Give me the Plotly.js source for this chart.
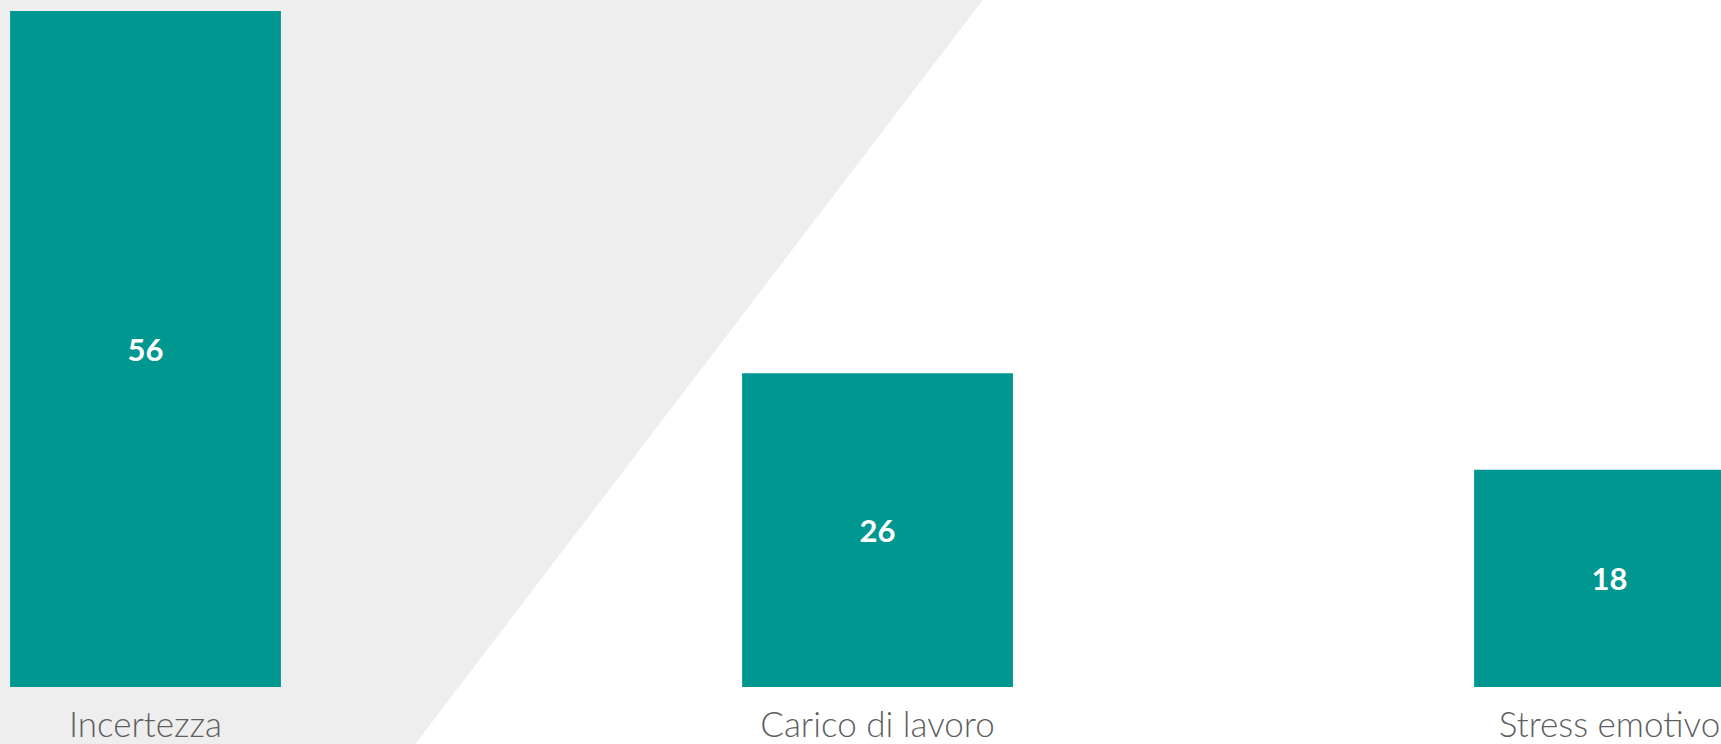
<!DOCTYPE html>
<html>
<head>
<meta charset="utf-8">
<script src="https://cdn.plot.ly/plotly-3.0.1.min.js"></script>
<style>
html,body{margin:0;padding:0;background:#fff;overflow:hidden;}
#chart{width:1721px;height:744px;}
</style>
</head>
<body>
<div id="chart"></div>
<script>
const categories = ["Incertezza", "Carico di lavoro", "Stress emotivo"];
const values = [56, 26, 18];
const barColor = "#009790";

const trace = {
  type: "bar",
  x: categories,
  y: values,
  text: values.map(String),
  textposition: "inside",
  insidetextanchor: "middle",
  textfont: {family: "Lato, 'Open Sans', sans-serif", size: 31, color: "#ffffff", weight: 700},
  marker: {color: barColor, line: {width: 0}},
  width: 0.37,
  hoverinfo: "skip"
};

const layout = {
  width: 1721,
  height: 744,
  margin: {l: 0, r: 0, t: 0, b: 57},
  paper_bgcolor: "#ffffff",
  plot_bgcolor: "rgba(0,0,0,0)",
  showlegend: false,
  xaxis: {
    type: "category",
    range: [-0.1988, 2.1523],
    showgrid: false,
    zeroline: false,
    showline: false,
    ticks: "outside",
    ticklen: 7,
    tickcolor: "rgba(0,0,0,0)",
    tickfont: {family: "Lato, 'Open Sans', sans-serif", size: 35, color: "#5f5f5f", weight: 300},
    fixedrange: true
  },
  yaxis: {
    range: [0, 56.91],
    visible: false,
    showgrid: false,
    zeroline: false,
    fixedrange: true
  },
  shapes: [{
    type: "path",
    xref: "paper",
    yref: "paper",
    path: "M 0 1 L 0.5710 1 L 0.2413 -0.083 L 0 -0.083 Z",
    fillcolor: "#eeeeee",
    line: {width: 0},
    layer: "below"
  }]
};

Plotly.newPlot("chart", [trace], layout, {displayModeBar: false, staticPlot: true});
</script>
</body>
</html>
